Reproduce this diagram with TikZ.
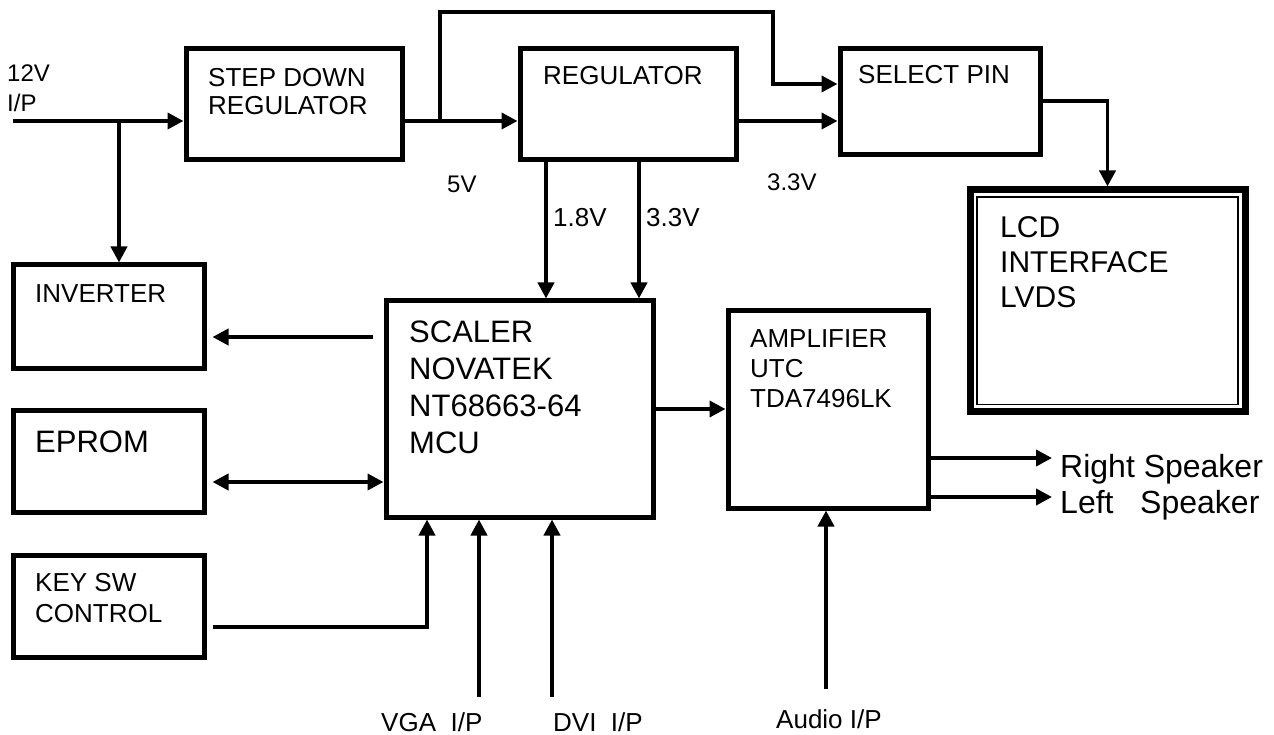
\documentclass[tikz,border=0pt]{standalone}
\usepackage{fontspec}
\setmainfont{Liberation Sans}
\usetikzlibrary{arrows.meta,calc}
\tikzset{
  blk/.style={draw=black,line width=5pt,inner sep=0pt},
  lcdbox/.style={draw=black,line width=7pt,inner sep=0pt},
  lcdin/.style={draw=black,line width=1.8pt},
  wire/.style={line width=3.8pt},
  arr/.style={wire,-{Triangle[length=16pt,width=16pt]}},
  darr/.style={wire,{Triangle[length=16pt,width=16pt]}-{Triangle[length=16pt,width=16pt]}},
  txt/.style={inner sep=0pt,anchor=base west,align=left,font=\fontsize{26}{30}\selectfont},
  bigtxt/.style={txt,font=\fontsize{31}{36.7}\selectfont},
  smalltxt/.style={txt,font=\fontsize{24}{30}\selectfont},
  spktxt/.style={txt,font=\fontsize{32}{36}\selectfont},
}
\begin{document}
\begin{tikzpicture}[x=1pt,y=-1pt]
  \useasboundingbox (0,0) rectangle (1274,735);
  \node[blk,minimum width=216,minimum height=111] (sdr) at (294,104.5) {};
  \node[blk,minimum width=216,minimum height=111] (reg) at (628,104.5) {};
  \node[blk,minimum width=200,minimum height=106] (sel) at (940,102) {};
  \node[lcdbox,minimum width=275,minimum height=221.5] (lcd) at (1107.5,300.75) {};
  \draw[lcdin] ($(lcd.north west)+(10.5,10.5)$) rectangle ($(lcd.south east)+(-10.5,-10.5)$);
  \node[blk,minimum width=191,minimum height=103] (inv) at (108.5,316.5) {};
  \node[blk,minimum width=191,minimum height=102] (eprom) at (108.5,461) {};
  \node[blk,minimum width=191,minimum height=102] (key) at (108.5,606) {};
  \node[blk,minimum width=267,minimum height=216] (scaler) at (519.5,409) {};
  \node[blk,minimum width=200,minimum height=198] (amp) at (828,409) {};

  \node[smalltxt] (t12v) at (7,112) {12V\\I/P};
  \node[txt,font=\fontsize{26}{28}\selectfont] (tsdr) at (208,115) {STEP DOWN\\REGULATOR};
  \node[txt] (treg) at (543,85) {REGULATOR};
  \node[txt] (tsel) at (858,84) {SELECT PIN};
  \node[smalltxt] (t5v) at (447,193) {5V};
  \node[smalltxt] (t33out) at (767,191) {3.3V};
  \node[txt] (t18) at (553,227) {1.8V};
  \node[txt] (t33in) at (646,227) {3.3V};
  \node[txt] (tinv) at (35,302) {INVERTER};
  \node[bigtxt] (tep) at (35,452) {EPROM};
  \node[txt,font=\fontsize{26}{31}\selectfont] (tkey) at (35,622) {KEY SW\\CONTROL};
  \node[bigtxt] (tsc) at (409,453) {SCALER\\NOVATEK\\NT68663-64\\MCU};
  \node[txt] (tamp) at (750,407) {AMPLIFIER\\UTC\\TDA7496LK};
  \node[bigtxt,font=\fontsize{30}{35}\selectfont] (tlcd) at (1000,307) {LCD\\INTERFACE\\LVDS};
  \node[spktxt] (trs) at (1060,477) {Right Speaker};
  \node[spktxt] (tls) at (1060,513) {Left~~~Speaker};
  \node[txt] (tvga) at (381,731) {VGA~~I/P};
  \node[txt] (tdvi) at (553,731) {DVI~~I/P};
  \node[txt] (taud) at (776,728) {Audio I/P};

  \coordinate (in12) at (13,121);
  \coordinate (j1) at (119,121);
  \coordinate (j2) at (440,121);
  \coordinate (bypass) at (773,12);
  \coordinate (v18) at ([xshift=-82pt]reg.south);
  \coordinate (v33) at ([xshift=11pt]reg.south);
  \coordinate (invout) at (373,337);
  \coordinate (epbus) at (0,482);
  \coordinate (keybus) at (0,627);
  \coordinate (keyin) at (427,0);
  \coordinate (vga) at (479,697);
  \coordinate (dvi) at (552,697);
  \coordinate (audio) at (826,689);
  \coordinate (rspk) at (1052,458);
  \coordinate (lspk) at (1052,497);

  \draw[arr] (in12) -- (in12 -| sdr.west);
  \draw[arr] (j1) -- (j1 |- inv.north);
  \draw[arr] (in12 -| sdr.east) -- (in12 -| reg.west);
  \draw[arr] (j2) |- (bypass) |- ([yshift=18pt]sel.west);
  \draw[arr] (in12 -| reg.east) -- (in12 -| sel.west);
  \draw[arr] ([yshift=1pt]sel.east) -| (lcd.north);
  \draw[arr] (v18) -- (v18 |- scaler.north);
  \draw[arr] (v33) -- (v33 |- scaler.north);
  \draw[arr,shorten >=6pt] (invout) -- (invout -| inv.east);
  \draw[darr,shorten <=6pt] (epbus -| eprom.east) -- (epbus -| scaler.west);
  \draw[arr,shorten <=6pt] (keybus -| key.east) -| (keyin |- scaler.south);
  \draw[arr] (vga) -- (vga |- scaler.south);
  \draw[arr] (dvi) -- (dvi |- scaler.south);
  \draw[arr] (scaler.east) -- (amp.west);
  \draw[arr] (rspk -| amp.east) -- (rspk);
  \draw[arr] (lspk -| amp.east) -- (lspk);
  \draw[arr] (audio) -- (audio |- amp.south);
\end{tikzpicture}
\end{document}
